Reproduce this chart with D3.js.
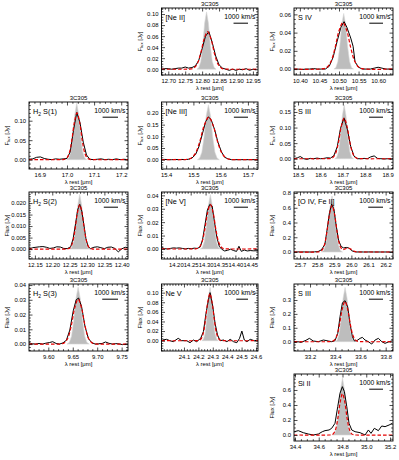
<!DOCTYPE html>
<html><head><meta charset="utf-8">
<script src="https://cdn.jsdelivr.net/npm/d3@7"></script>
<style>
body{margin:0;background:#fff}
svg{display:block}
text{font-family:"Liberation Sans",Arial,Helvetica,sans-serif;fill:#000}
</style>
</head><body>
<svg id="chart" width="399" height="460"></svg>
<script>
// ---------------- DATA ----------------
const sourceName = "3C305";
const restWave = {neII:12.814, sIV:10.511, h2s1:17.035, neIII:15.555, sIII18:18.713, h2s2:12.279, neV14:14.322, oIV:25.89, h2s3:9.665, neV24:24.318, sIII33:33.48, siII:34.815};

// [Ne II]
const neII_wave = [12.68,12.69,12.70,12.71,12.72,12.73,12.74,12.75,12.76,12.77,12.78,12.79,12.80,12.81,12.82,12.83,12.84,12.85,12.86,12.87,12.88,12.89,12.90,12.91,12.92,12.93,12.94,12.95,12.96];
const neII_flux = [0.000,0.001,0.001,0.000,0.001,0.002,0.002,0.004,0.002,0.003,0.006,0.016,0.037,0.060,0.068,0.048,0.024,0.008,0.002,0.000,-0.002,0.000,-0.002,0.000,-0.001,0.001,-0.002,0.000,-0.001];
const neII_fitWave = [12.68,12.754,12.7645,12.7748,12.7851,12.7954,12.8057,12.816,12.8263,12.8366,12.8469,12.8572,12.8675,12.8778,12.965];
const neII_fit = [0,0,0.0003,0.0019,0.0092,0.0279,0.0544,0.068,0.0544,0.0279,0.0092,0.0019,0.0003,0,0];
const neII_instWave = [12.7847,12.7903,12.796,12.8017,12.8073,12.813,12.8187,12.8243,12.83,12.8357,12.8413];
const neII_inst = [0,0.0029,0.014,0.0426,0.0832,0.104,0.0832,0.0426,0.014,0.0029,0];
const neII_xDomain = [12.68,12.965], neII_yDomain = [-0.0105,0.111];
const neII_xTicks = [12.70,12.75,12.80,12.85,12.90,12.95], neII_yTicks = [0.00,0.02,0.04,0.06,0.08,0.10];

// S IV
const sIV_wave = [10.385,10.395,10.405,10.415,10.425,10.435,10.445,10.455,10.465,10.475,10.485,10.495,10.505,10.513,10.52,10.53,10.536,10.541,10.55,10.56,10.57,10.58,10.59,10.60,10.61,10.62,10.63,10.638];
const sIV_flux = [0,0,-0.0005,0,0,0.0005,0,0,0,0.003,0.013,0.030,0.046,0.052,0.046,0.034,0.025,0.008,0.002,0,0,0,0.001,0.002,0.001,0,0,0];
const sIV_fitWave = [10.385,10.46,10.47,10.48,10.49,10.50,10.51,10.52,10.53,10.54,10.55,10.56,10.638];
const sIV_fit = [0,0.0004,0.0022,0.0088,0.0234,0.042,0.051,0.042,0.0234,0.0088,0.0022,0.0004,0];
const sIV_instWave = [10.487,10.492,10.497,10.502,10.507,10.512,10.517,10.522,10.527,10.532,10.537];
const sIV_inst = [0,0.0017,0.0083,0.025,0.049,0.061,0.049,0.025,0.0083,0.0017,0];
const sIV_xDomain = [10.385,10.638], sIV_yDomain = [-0.0065,0.067];
const sIV_xTicks = [10.40,10.45,10.50,10.55,10.60], sIV_yTicks = [0.00,0.02,0.04,0.06];

// H2 S(1)
const h2s1_wave = [16.86,16.874,16.888,16.902,16.916,16.93,16.944,16.958,16.972,16.986,17.000,17.012,17.024,17.036,17.048,17.06,17.072,17.084,17.098,17.112,17.126,17.14,17.154,17.168,17.182,17.196,17.21,17.225];
const h2s1_flux = [0.001,0.002,0.006,0.007,0.003,0.001,0.000,0.002,0.001,0.002,0.003,0.020,0.075,0.121,0.095,0.045,0.012,0.001,0.000,0.001,0.002,0.000,0.001,0.000,0.002,0.000,0.001,0.000];
const h2s1_fitWave = [16.86,16.979,16.9887,16.9983,17.008,17.0177,17.0273,17.037,17.0467,17.0563,17.066,17.0757,17.0853,17.095,17.225];
const h2s1_fit = [0,0,0.0005,0.0034,0.0162,0.0492,0.096,0.120,0.096,0.0492,0.0162,0.0034,0.0005,0,0];
const h2s1_instWave = [16.9993,17.0067,17.014,17.0213,17.0287,17.036,17.0433,17.0507,17.058,17.0653,17.0727];
const h2s1_inst = [0,0.0041,0.0196,0.0595,0.116,0.145,0.116,0.0595,0.0196,0.0041,0];
const h2s1_xDomain = [16.86,17.225], h2s1_yDomain = [-0.024,0.148];
const h2s1_xTicks = [16.9,17.0,17.1,17.2], h2s1_yTicks = [0.00,0.05,0.10];

// [Ne III]
const neIII_wave = [15.383,15.395,15.408,15.42,15.433,15.445,15.458,15.47,15.483,15.495,15.508,15.52,15.533,15.545,15.555,15.565,15.578,15.59,15.603,15.615,15.628,15.64,15.653,15.665,15.678,15.69,15.703,15.715,15.728,15.737];
const neIII_flux = [0,0.001,0,0,0.001,0,0.001,0,0.002,0.007,0.022,0.055,0.11,0.163,0.183,0.172,0.128,0.075,0.033,0.010,0.003,0,0,0,0,0,0,0,0,0];
const neIII_fitWave = [15.383,15.456,15.4727,15.4893,15.506,15.5227,15.5393,15.556,15.5727,15.5893,15.606,15.6227,15.6393,15.656,15.737];
const neIII_fit = [0,0,0.0007,0.0051,0.0246,0.0746,0.1456,0.182,0.1456,0.0746,0.0246,0.0051,0.0007,0,0];
const neIII_instWave = [15.515,15.523,15.531,15.539,15.547,15.555,15.563,15.571,15.579,15.587,15.595];
const neIII_inst = [0,0.0066,0.0317,0.0964,0.188,0.235,0.188,0.0964,0.0317,0.0066,0];
const neIII_xDomain = [15.383,15.737], neIII_yDomain = [-0.04,0.247];
const neIII_xTicks = [15.4,15.5,15.6,15.7], neIII_yTicks = [0.00,0.05,0.10,0.15,0.20];

// S III 18.7
const sIII18_wave = [18.482,18.497,18.51,18.525,18.54,18.555,18.57,18.585,18.60,18.615,18.63,18.645,18.66,18.675,18.69,18.705,18.72,18.735,18.75,18.765,18.78,18.795,18.81,18.825,18.84,18.855,18.87,18.885,18.90,18.915,18.924];
const sIII18_flux = [0,0.003,0.007,0,-0.002,0.001,0,0.002,0,0.001,0.003,0.002,0.010,0.038,0.098,0.131,0.095,0.040,0.008,0,0,0.001,0,0.006,0.009,0.001,0,-0.001,0,-0.001,0];
const sIII18_fitWave = [18.482,18.630,18.6427,18.6553,18.668,18.6807,18.6933,18.706,18.7187,18.7313,18.744,18.7567,18.7693,18.782,18.924];
const sIII18_fit = [0,0,0.0005,0.0036,0.0176,0.0533,0.104,0.13,0.104,0.0533,0.0176,0.0036,0.0005,0,0];
const sIII18_instWave = [18.6643,18.6727,18.681,18.6893,18.6977,18.706,18.7143,18.7227,18.731,18.7393,18.7477];
const sIII18_inst = [0,0.0048,0.0232,0.0705,0.138,0.172,0.138,0.0705,0.0232,0.0048,0];
const sIII18_xDomain = [18.482,18.924], sIII18_yDomain = [-0.033,0.182];
const sIII18_xTicks = [18.5,18.6,18.7,18.8,18.9], sIII18_yTicks = [0.00,0.05,0.10,0.15];

// H2 S(2)
const h2s2_wave = [12.133,12.143,12.153,12.163,12.173,12.183,12.193,12.203,12.213,12.223,12.233,12.243,12.253,12.260,12.267,12.273,12.279,12.285,12.291,12.297,12.303,12.31,12.32,12.33,12.34,12.35,12.36,12.37,12.38,12.39,12.40,12.41,12.418];
const h2s2_flux = [0,0.0006,0.0008,0.0010,0.0011,0.0008,0.0003,0.0005,0.0010,0.0009,0.0003,0.0002,0.0010,0.0045,0.0110,0.0170,0.0195,0.0165,0.0105,0.0045,0.0012,0.0002,0.0008,0.0010,0.0006,0.0002,0.0008,0.0009,0.0003,-0.0012,0.0001,0.0008,0.0005];
const h2s2_fitWave = [12.133,12.237,12.244,12.251,12.258,12.265,12.272,12.279,12.286,12.293,12.30,12.307,12.314,12.321,12.418];
const h2s2_fit = [0,0,0.0001,0.0005,0.0026,0.0079,0.0154,0.0193,0.0154,0.0079,0.0026,0.0005,0.0001,0,0];
const h2s2_instWave = [12.25,12.2558,12.2616,12.2674,12.2732,12.279,12.2848,12.2906,12.2964,12.3022,12.308];
const h2s2_inst = [0,0.0007,0.0032,0.0098,0.019,0.0238,0.019,0.0098,0.0032,0.0007,0];
const h2s2_xDomain = [12.133,12.418], h2s2_yDomain = [-0.0043,0.0248];
const h2s2_xTicks = [12.15,12.20,12.25,12.30,12.35,12.40], h2s2_yTicks = [0.000,0.005,0.010,0.015,0.020];

// [Ne V] 14.3
const neV14_wave = [14.152,14.162,14.172,14.182,14.192,14.202,14.212,14.222,14.232,14.242,14.252,14.262,14.272,14.282,14.29,14.298,14.306,14.314,14.322,14.33,14.338,14.346,14.354,14.364,14.374,14.384,14.394,14.404,14.412,14.42,14.43,14.44,14.45,14.46,14.476];
const neV14_flux = [0.0012,0.0002,0,0.0004,0.0008,0.0006,0.0008,0.0004,0,0.0004,0.0002,0.0006,0.0004,0.0015,0.0070,0.0180,0.0290,0.0332,0.0320,0.0200,0.0085,0.0020,-0.0002,-0.0015,-0.0010,-0.0002,-0.0012,-0.0018,0.0020,-0.0018,-0.0008,-0.0015,-0.0012,-0.0014,-0.0013];
const neV14_fitWave = [14.152,14.258,14.2677,14.2773,14.287,14.2967,14.3063,14.316,14.3257,14.3353,14.345,14.3547,14.3643,14.374,14.476];
const neV14_fit = [0,0,0.0001,0.0009,0.0045,0.0136,0.0266,0.0332,0.0266,0.0136,0.0045,0.0009,0.0001,0,0];
const neV14_instWave = [14.2823,14.289,14.2958,14.3025,14.3093,14.316,14.3227,14.3295,14.3362,14.343,14.3497];
const neV14_inst = [0,0.0011,0.0055,0.0166,0.0324,0.0405,0.0324,0.0166,0.0055,0.0011,0];
const neV14_xDomain = [14.152,14.476], neV14_yDomain = [-0.0075,0.0425];
const neV14_xTicks = [14.20,14.25,14.30,14.35,14.40,14.45], neV14_yTicks = [0.00,0.01,0.02,0.03,0.04];

// [O IV, Fe II]
const oIV_wave = [25.665,25.685,25.705,25.725,25.745,25.765,25.785,25.805,25.825,25.845,25.860,25.872,25.885,25.898,25.91,25.925,25.94,25.955,25.97,25.985,26.0,26.015,26.03,26.05,26.07,26.09,26.11,26.13,26.15,26.17,26.19,26.21,26.243];
const oIV_flux = [0,0.002,0,0.001,0,0,0.002,0.005,0.03,0.10,0.33,0.53,0.65,0.58,0.38,0.16,0.075,0.055,0.062,0.055,0.02,0.005,0,0.001,0,0,0.001,0,0,0,0,0,0];
const oIV_fitWave = [25.665,25.795,25.8103,25.8257,25.841,25.8563,25.8717,25.887,25.9023,25.9177,25.933,25.9483,25.9637,25.979,25.994,26.009,26.024,26.039,26.054,26.243];
const oIV_fit = [0,0,0.0025,0.0176,0.085,0.258,0.504,0.63,0.504,0.258,0.0885,0.0333,0.0419,0.055,0.043,0.019,0.0049,0.0007,0,0];
const oIV_instWave = [25.826,25.8382,25.8504,25.8626,25.8748,25.887,25.8992,25.9114,25.9236,25.9358,25.948];
const oIV_inst = [0,0.0213,0.1026,0.3116,0.608,0.76,0.608,0.3116,0.1026,0.0213,0];
const oIV_xDomain = [25.665,26.243], oIV_yDomain = [-0.095,0.814];
const oIV_xTicks = [25.7,25.8,25.9,26.0,26.1,26.2], oIV_yTicks = [0.0,0.2,0.4,0.6,0.8];

// H2 S(3)
const h2s3_wave = [9.5605,9.567,9.574,9.581,9.588,9.595,9.602,9.609,9.616,9.623,9.630,9.637,9.644,9.651,9.657,9.662,9.668,9.675,9.682,9.689,9.696,9.703,9.710,9.717,9.724,9.731,9.738,9.745,9.752,9.759,9.763];
const h2s3_flux = [0.0009,0.0002,0,0.0004,0,0.0006,0.0010,0.0016,0.0004,0,0.0008,0.0026,0.0095,0.0225,0.0300,0.0312,0.0255,0.0120,0.0038,0.0009,0,0.0002,0.0004,0.0014,0.0005,0,0.0003,0.0001,-0.0004,0,0];
const h2s3_fitWave = [9.5605,9.619,9.626,9.633,9.640,9.647,9.654,9.661,9.668,9.675,9.682,9.689,9.696,9.703,9.763];
const h2s3_fit = [0,0,0.0001,0.0009,0.0041,0.0125,0.0244,0.0305,0.0244,0.0125,0.0041,0.0009,0.0001,0,0];
const h2s3_instWave = [9.6383,9.6429,9.6474,9.6519,9.6565,9.661,9.6655,9.6701,9.6746,9.6791,9.6837];
const h2s3_inst = [0,0.0011,0.0052,0.0158,0.0308,0.0385,0.0308,0.0158,0.0052,0.0011,0];
const h2s3_xDomain = [9.5605,9.763], h2s3_yDomain = [-0.0047,0.0407];
const h2s3_xTicks = [9.60,9.65,9.70,9.75], h2s3_yTicks = [0.00,0.01,0.02,0.03,0.04];

// Ne V 24.3
const neV24_wave = [23.951,23.979,24.002,24.026,24.06,24.084,24.119,24.142,24.165,24.188,24.216,24.235,24.253,24.27,24.281,24.30,24.316,24.333,24.351,24.374,24.398,24.421,24.444,24.467,24.486,24.502,24.519,24.537,24.56,24.588,24.614];
const neV24_flux = [0.0014,0.0028,0,-0.0021,0.0049,0,0,-0.0042,0.0014,-0.0021,0.0049,0.019,0.057,0.085,0.100,0.071,0.036,0.012,0,0.0014,-0.0021,0.0028,-0.0021,-0.0042,0.0049,0.020,0.0014,-0.0021,0.0028,0,0.0010];
const neV24_fitWave = [23.944,24.184,24.2,24.216,24.232,24.248,24.264,24.28,24.296,24.312,24.328,24.344,24.36,24.376,24.614];
const neV24_fit = [0,0,0.0004,0.0027,0.0132,0.0402,0.0784,0.098,0.0784,0.0402,0.0132,0.0027,0.0004,0,0];
const neV24_instWave = [24.2237,24.2351,24.2466,24.2581,24.2695,24.281,24.2925,24.3039,24.3154,24.3269,24.3383];
const neV24_inst = [0,0.0031,0.015,0.0455,0.0888,0.111,0.0888,0.0455,0.015,0.0031,0];
const neV24_xDomain = [23.944,24.614], neV24_yDomain = [-0.0215,0.118];
const neV24_xTicks = [24.1,24.2,24.3,24.4,24.5,24.6], neV24_yTicks = [0.00,0.02,0.04,0.06,0.08,0.10];

// S III 33.5
const sIII33_wave = [33.076,33.102,33.129,33.168,33.195,33.226,33.266,33.306,33.345,33.372,33.398,33.42,33.438,33.457,33.478,33.499,33.517,33.536,33.552,33.571,33.597,33.615,33.636,33.663,33.689,33.716,33.742,33.769,33.795,33.827,33.856];
const sIII33_flux = [-0.007,0,-0.005,0.010,0.024,0.005,0,0.012,0.005,0,0.007,0.06,0.18,0.28,0.295,0.25,0.13,0.036,0.005,0.007,0.024,0.031,0.012,0,-0.017,0.012,0.024,0,-0.012,0,0.007];
const sIII33_fitWave = [33.073,33.345,33.367,33.389,33.411,33.433,33.455,33.477,33.499,33.521,33.543,33.565,33.587,33.609,33.858];
const sIII33_fit = [0,0,0.0012,0.0081,0.0392,0.119,0.232,0.29,0.232,0.119,0.0392,0.0081,0.0012,0,0];
const sIII33_instWave = [33.399,33.4148,33.4306,33.4464,33.4622,33.478,33.4938,33.5096,33.5254,33.5412,33.557];
const sIII33_inst = [0,0.0109,0.0527,0.16,0.312,0.39,0.312,0.16,0.0527,0.0109,0];
const sIII33_xDomain = [33.073,33.858], sIII33_yDomain = [-0.067,0.415];
const sIII33_xTicks = [33.2,33.4,33.6,33.8], sIII33_yTicks = [0.0,0.1,0.2,0.3];

// Si II
const siII_wave = [34.395,34.428,34.47,34.512,34.555,34.597,34.63,34.653,34.687,34.709,34.737,34.76,34.779,34.799,34.816,34.836,34.855,34.878,34.906,34.948,34.99,35.018,35.04,35.068,35.102,35.13,35.158,35.192,35.22];
const siII_flux = [0.044,0.058,0.031,0.013,0,0.013,0.044,0.058,0.067,0.089,0.156,0.378,0.556,0.644,0.578,0.378,0.156,0.067,0.044,0.031,0,0.067,0.022,0.089,0.058,0.12,0.111,0.133,0.156];
const siII_fitWave = [34.392,34.684,34.7033,34.7227,34.742,34.7613,34.7807,34.80,34.8193,34.8387,34.858,34.8773,34.8967,34.916,35.225];
const siII_fit = [0,0,0.0022,0.0154,0.0743,0.2255,0.44,0.55,0.44,0.2255,0.0743,0.0154,0.0022,0,0];
const siII_instWave = [34.718,34.7344,34.7508,34.7672,34.7836,34.80,34.8164,34.8328,34.8492,34.8656,34.882];
const siII_inst = [0,0.0213,0.1026,0.3116,0.608,0.76,0.608,0.3116,0.1026,0.0213,0];
const siII_xDomain = [34.392,35.225], siII_yDomain = [-0.08,0.813];
const siII_xTicks = [34.4,34.6,34.8,35.0,35.2], siII_yTicks = [0.0,0.2,0.4,0.6];

// ---------------- PANEL SETUP ----------------
const P = (id, label, col, row, xdec, ydec, xMinor, yMinor, wave, flux, fitWave, fit, instWave, inst, xDomain, yDomain, xTicks, yTicks) =>
  ({id, label, col, row, xdec, ydec, xMinor, yMinor, wave, flux, fitWave, fit, instWave, inst, xDomain, yDomain, xTicks, yTicks});

const panels = [
  P('neII',[['[Ne II]']],1,0,2,2,0.01,0.005,neII_wave,neII_flux,neII_fitWave,neII_fit,neII_instWave,neII_inst,neII_xDomain,neII_yDomain,neII_xTicks,neII_yTicks),
  P('sIV',[['S IV']],2,0,2,2,0.01,0.005,sIV_wave,sIV_flux,sIV_fitWave,sIV_fit,sIV_instWave,sIV_inst,sIV_xDomain,sIV_yDomain,sIV_xTicks,sIV_yTicks),
  P('h2s1',[['H'],['2',1],[' S(1)']],0,1,1,2,0.02,0.01,h2s1_wave,h2s1_flux,h2s1_fitWave,h2s1_fit,h2s1_instWave,h2s1_inst,h2s1_xDomain,h2s1_yDomain,h2s1_xTicks,h2s1_yTicks),
  P('neIII',[['[Ne III]']],1,1,1,2,0.02,0.01,neIII_wave,neIII_flux,neIII_fitWave,neIII_fit,neIII_instWave,neIII_inst,neIII_xDomain,neIII_yDomain,neIII_xTicks,neIII_yTicks),
  P('sIII18',[['S III']],2,1,1,2,0.02,0.01,sIII18_wave,sIII18_flux,sIII18_fitWave,sIII18_fit,sIII18_instWave,sIII18_inst,sIII18_xDomain,sIII18_yDomain,sIII18_xTicks,sIII18_yTicks),
  P('h2s2',[['H'],['2',1],[' S(2)']],0,2,2,3,0.01,0.001,h2s2_wave,h2s2_flux,h2s2_fitWave,h2s2_fit,h2s2_instWave,h2s2_inst,h2s2_xDomain,h2s2_yDomain,h2s2_xTicks,h2s2_yTicks),
  P('neV14',[['[Ne V]']],1,2,2,2,0.01,0.002,neV14_wave,neV14_flux,neV14_fitWave,neV14_fit,neV14_instWave,neV14_inst,neV14_xDomain,neV14_yDomain,neV14_xTicks,neV14_yTicks),
  P('oIV',[['[O IV, Fe II]']],2,2,1,1,0.02,0.05,oIV_wave,oIV_flux,oIV_fitWave,oIV_fit,oIV_instWave,oIV_inst,oIV_xDomain,oIV_yDomain,oIV_xTicks,oIV_yTicks),
  P('h2s3',[['H'],['2',1],[' S(3)']],0,3,2,2,0.01,0.002,h2s3_wave,h2s3_flux,h2s3_fitWave,h2s3_fit,h2s3_instWave,h2s3_inst,h2s3_xDomain,h2s3_yDomain,h2s3_xTicks,h2s3_yTicks),
  P('neV24',[['Ne V']],1,3,1,2,0.02,0.005,neV24_wave,neV24_flux,neV24_fitWave,neV24_fit,neV24_instWave,neV24_inst,neV24_xDomain,neV24_yDomain,neV24_xTicks,neV24_yTicks),
  P('sIII33',[['S III']],2,3,1,1,0.05,0.02,sIII33_wave,sIII33_flux,sIII33_fitWave,sIII33_fit,sIII33_instWave,sIII33_inst,sIII33_xDomain,sIII33_yDomain,sIII33_xTicks,sIII33_yTicks),
  P('siII',[['Si II']],2,4,1,1,0.05,0.05,siII_wave,siII_flux,siII_fitWave,siII_fit,siII_instWave,siII_inst,siII_xDomain,siII_yDomain,siII_xTicks,siII_yTicks)
];

// ---------------- LAYOUT / STYLE ----------------
const colLeft = [29, 161.5, 294], colW = [99, 96.5, 99];
const rowTop = [8, 102, 192, 284, 374], panelH = 67;
const FONT = '"Liberation Sans",Arial,Helvetica,sans-serif';
const svg = d3.select('#chart');

function minorVals(dom, step, majors){
  const out = [];
  const start = Math.ceil(dom[0]/step - 1e-9), end = Math.floor(dom[1]/step + 1e-9);
  for (let i = start; i <= end; i++){
    const v = +(i*step).toFixed(6);
    if (!majors.some(m => Math.abs(m - v) < step*0.01)) out.push(v);
  }
  return out;
}

panels.forEach(p => {
  const left = colLeft[p.col], top = rowTop[p.row], w = colW[p.col], h = panelH;
  const g = svg.append('g').attr('transform', `translate(${left},${top})`);
  const x = d3.scaleLinear().domain(p.xDomain).range([0, w]);
  const y = d3.scaleLinear().domain(p.yDomain).range([h, 0]);

  g.append('clipPath').attr('id', 'clip-' + p.id)
    .append('rect').attr('width', w).attr('height', h);
  const plot = g.append('g').attr('clip-path', `url(#clip-${p.id})`);

  const inst = p.instWave.map((v, i) => [v, p.inst[i]]);
  plot.append('path').datum(inst)
    .attr('d', d3.area().x(d => x(d[0])).y0(y(0)).y1(d => y(d[1])))
    .attr('fill', '#bdbdbd').attr('stroke', '#d9d9d9').attr('stroke-width', 0.6);

  const obs = p.wave.map((v, i) => [v, p.flux[i]]);
  plot.append('path').datum(obs)
    .attr('d', d3.line().x(d => x(d[0])).y(d => y(d[1])))
    .attr('fill', 'none').attr('stroke', '#000').attr('stroke-width', 1)
    .attr('stroke-linejoin', 'round');

  const fit = p.fitWave.map((v, i) => [v, p.fit[i]]);
  plot.append('path').datum(fit)
    .attr('d', d3.line().curve(d3.curveCatmullRom.alpha(0.5)).x(d => x(d[0])).y(d => y(d[1])))
    .attr('fill', 'none').attr('stroke', '#e60000').attr('stroke-width', 1.2)
    .attr('stroke-dasharray', '3.5,2');

  // axes
  const fx = d3.format('.' + p.xdec + 'f'), fy = d3.format('.' + p.ydec + 'f');
  const xMin = minorVals(p.xDomain, p.xMinor, p.xTicks);
  const yMin = minorVals(p.yDomain, p.yMinor, p.yTicks);
  const styleAxis = sel => { sel.select('.domain').remove(); sel.selectAll('line').attr('stroke', '#000').attr('stroke-width', 0.7); sel.attr('font-family', FONT).attr('font-size', 5.9); sel.selectAll('text').attr('fill', '#000'); };

  g.append('g').attr('transform', `translate(0,${h})`)
    .call(d3.axisBottom(x).tickValues(p.xTicks).tickSize(-3.5).tickPadding(4.2).tickFormat(fx)).call(styleAxis);
  g.append('g').attr('transform', `translate(0,${h})`)
    .call(d3.axisBottom(x).tickValues(xMin).tickSize(-1.8).tickFormat('')).call(styleAxis);
  g.append('g').call(d3.axisTop(x).tickValues(p.xTicks).tickSize(-3.5).tickFormat('')).call(styleAxis);
  g.append('g').call(d3.axisTop(x).tickValues(xMin).tickSize(-1.8).tickFormat('')).call(styleAxis);

  g.append('g').call(d3.axisLeft(y).tickValues(p.yTicks).tickSize(-3.5).tickPadding(3).tickFormat(fy)).call(styleAxis);
  g.append('g').call(d3.axisLeft(y).tickValues(yMin).tickSize(-1.8).tickFormat('')).call(styleAxis);
  g.append('g').attr('transform', `translate(${w},0)`)
    .call(d3.axisRight(y).tickValues(p.yTicks).tickSize(-3.5).tickFormat('')).call(styleAxis);
  g.append('g').attr('transform', `translate(${w},0)`)
    .call(d3.axisRight(y).tickValues(yMin).tickSize(-1.8).tickFormat('')).call(styleAxis);

  g.append('rect').attr('width', w).attr('height', h)
    .attr('fill', 'none').attr('stroke', '#000').attr('stroke-width', 0.9);

  // title
  g.append('text').attr('x', w/2).attr('y', -1.8).attr('text-anchor', 'middle')
    .attr('font-size', 6).text(sourceName);

  // line label
  const lab = g.append('text').attr('x', 4).attr('y', 12).attr('font-size', 7.3);
  let shifted = false;
  p.label.forEach(seg => {
    const t = lab.append('tspan').text(seg[0]);
    if (seg[1]) { t.attr('font-size', 5).attr('dy', 1.6); shifted = true; }
    else if (shifted) { t.attr('dy', -1.6); shifted = false; }
  });

  // velocity scale bar
  g.append('text').attr('x', w - 2.5).attr('y', 11).attr('text-anchor', 'end')
    .attr('font-size', 6.8).text('1000 km/s');
  const c = restWave[p.id];
  const barLen = x(c + c/300) - x(c);
  g.append('line').attr('x1', w - 10 - barLen).attr('x2', w - 10)
    .attr('y1', 15.2).attr('y2', 15.2).attr('stroke', '#000').attr('stroke-width', 1);

  // axis titles
  g.append('text').attr('x', w/2).attr('y', h + 14.8).attr('text-anchor', 'middle')
    .attr('font-size', 5.9).text('λ rest [μm]');
  const yt = g.append('text').attr('transform', `translate(-20,${h/2}) rotate(-90)`)
    .attr('text-anchor', 'middle').attr('font-size', 5.9);
  if (p.row < 2) {
    yt.append('tspan').text('F');
    yt.append('tspan').attr('font-size', 4.3).attr('dy', 1.4).text('lux');
    yt.append('tspan').attr('dy', -1.4).text(' [Jy]');
  } else {
    yt.text('Flux [Jy]');
  }
});
</script>
</body></html>
